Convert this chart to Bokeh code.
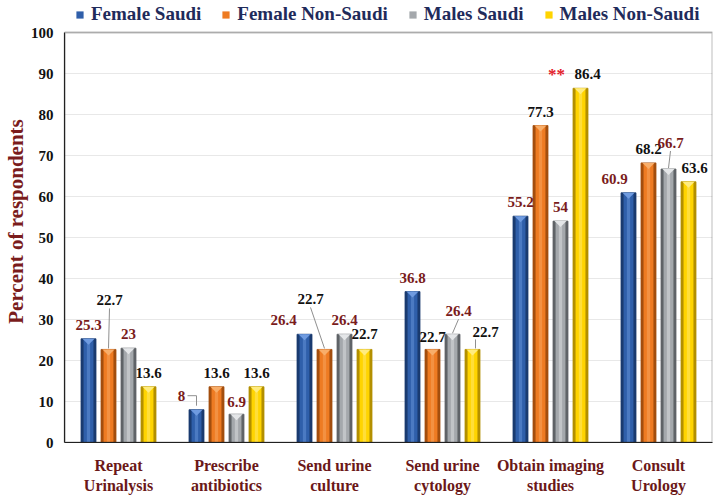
from bokeh.plotting import figure
from bokeh.models import (Range1d, FixedTicker, ColumnDataSource, LabelSet,
                          Legend, LegendItem, Label, BoxAnnotation)
from bokeh.embed import file_html
from bokeh.resources import INLINE

# ---------------- data ----------------
categories = ["Repeat\nUrinalysis", "Prescribe\nantibiotics", "Send urine\nculture",
              "Send urine\ncytology", "Obtain imaging\nstudies", "Consult\nUrology"]
series_names = ["Female Saudi", "Female Non-Saudi", "Males Saudi", "Males Non-Saudi"]
female_saudi = [25.3, 8, 26.4, 36.8, 55.2, 60.9]
female_non_saudi = [22.7, 13.6, 22.7, 22.7, 77.3, 68.2]
males_saudi = [23, 6.9, 26.4, 26.4, 54, 66.7]
males_non_saudi = [13.6, 13.6, 22.7, 22.7, 86.4, 63.6]
y_ticks = [0, 10, 20, 30, 40, 50, 60, 70, 80, 90, 100]
y_max = 100
significance_mark = "**"          # shown beside Males Non-Saudi, Obtain imaging studies
significance_index = 4

series_values = [female_saudi, female_non_saudi, males_saudi, males_non_saudi]

# ---------------- style ----------------
SERIF = "Liberation Serif"
DARK_RED = "#7A1C1C"
base_cols = ["#2F5FAA", "#EE7B22", "#A4A8AC", "#FFD400"]
edge_cols = ["#1A3B70", "#A34E0E", "#5F6367", "#B38F00"]
light_cols = ["#6F9BE0", "#F8AE6A", "#E4E6E8", "#FFEC80"]
label_cols = [DARK_RED, "#111111", DARK_RED, "#111111"]
# label pixel offsets (dx, dy above bar top) per series / group
label_dx = [[0, -15, -21, 0, 0, -14],
            [1, 0, -14, 0, 0, 0],
            [0, 0, 0, 6, 0, 2],
            [0, 0, 0, 13, 7, 6]]
label_dy = [[14, 14, 14, 14, 14, 14],
            [49, 14, 50, 12, 14, 14],
            [14, 12, 14, 23, 14, 26],
            [14, 14, 15, 17, 14, 14]]
# leader lines: (series, group, kind)
leaders = [(1, 0, "down"), (0, 1, "elbow"), (1, 2, "down"), (2, 3, "down"),
           (3, 3, "left"), (2, 5, "down")]

FW = 648          # frame width (px)
PLOT_H = 410      # px for the 0..100 span
TOP_PAD = 32      # px above the 100 line, holds the legend
pxx = FW / 6.0
pxy = PLOT_H / 100.0
pitch = 20 / pxx
bw = 15 / pxx

p = figure(frame_width=FW, frame_height=PLOT_H + TOP_PAD,
           x_range=Range1d(0, 6), y_range=Range1d(0, y_max + TOP_PAD / pxy),
           output_backend="svg", toolbar_location=None,
           min_border_left=0, min_border_right=3, min_border_top=0, min_border_bottom=0)
p.background_fill_color = "white"
p.border_fill_color = "white"
p.outline_line_color = None

# plot box (0..100)
p.add_layout(BoxAnnotation(left=0, right=6, bottom=0, top=y_max, fill_alpha=0,
                           line_color="#222222", line_width=2))

legend_items = []
for s in range(4):
    vals = series_values[s]
    xs = [i + 0.5 + (s - 1.5) * pitch for i in range(len(categories))]
    src = ColumnDataSource(dict(x=xs, top=vals))
    p.vbar(x="x", top="top", width=bw, bottom=0, source=src,
           fill_color=edge_cols[s], line_color=edge_cols[s], line_width=0.8)
    r = p.vbar(x="x", top="top", width=bw * 0.66, bottom=0, source=src,
               fill_color=base_cols[s], line_color=None)
    p.vbar(x="x", top="top", width=bw * 0.22, bottom=0, source=src,
           fill_color=light_cols[s], fill_alpha=0.45, line_color=None)
    cap = 6 / pxy
    p.patches([[x - bw * 0.4, x + bw * 0.4, x] for x in xs],
              [[v, v, v - cap] for v in vals],
              fill_color=light_cols[s], line_color=None)
    legend_items.append(LegendItem(label=series_names[s], renderers=[r]))

    lsrc = ColumnDataSource(dict(
        x=[xs[i] + label_dx[s][i] / pxx for i in range(len(vals))],
        y=[vals[i] + label_dy[s][i] / pxy for i in range(len(vals))],
        t=[("%g" % v) for v in vals]))
    p.add_layout(LabelSet(x="x", y="y", text="t", source=lsrc, text_align="center",
                          text_baseline="middle", text_font=SERIF, text_font_style="bold",
                          text_font_size="15px", text_color=label_cols[s]))

# leader lines
lx_all, ly_all = [], []
for s, g, kind in leaders:
    bx = g + 0.5 + (s - 1.5) * pitch
    v = series_values[s][g]
    lx = bx + label_dx[s][g] / pxx
    ly = v + label_dy[s][g] / pxy
    if kind == "down":
        lx_all.append([lx, bx])
        ly_all.append([ly - 8 / pxy, v + 1 / pxy])
    elif kind == "left":
        lx_all.append([lx - 10 / pxx, bx + 3 / pxx])
        ly_all.append([ly - 7 / pxy, v + 1 / pxy])
    else:  # elbow
        lx_all.append([lx + 6 / pxx, bx, bx])
        ly_all.append([ly, ly, v + 4 / pxy])
p.multi_line(lx_all, ly_all, line_color="#8F8F8F", line_width=1)

# significance mark
sx = significance_index + 0.5 + 1.5 * pitch
sv = males_non_saudi[significance_index]
p.add_layout(Label(x=sx - 24 / pxx, y=sv + label_dy[3][significance_index] / pxy,
                   text=significance_mark, text_align="center", text_baseline="middle",
                   text_font=SERIF, text_font_style="bold", text_font_size="17px",
                   text_color="#E3202A"))

# axes
p.yaxis.ticker = FixedTicker(ticks=y_ticks)
p.yaxis.bounds = (0, y_max)
p.xaxis.ticker = FixedTicker(ticks=[i + 0.5 for i in range(len(categories))])
p.xaxis.major_label_overrides = {i + 0.5: c for i, c in enumerate(categories)}
for ax in (p.xaxis, p.yaxis):
    ax.major_tick_line_color = None
    ax.minor_tick_line_color = None
    ax.axis_line_color = "#222222"
    ax.axis_line_width = 1.2
    ax.major_label_text_font = SERIF
    ax.major_label_text_font_style = "bold"
p.yaxis.major_label_text_font_size = "15px"
p.yaxis.major_label_text_color = "#111111"
p.yaxis.major_label_standoff = 5
p.xaxis.major_label_text_font_size = "16px"
p.xaxis.major_label_text_color = "#6B1818"
p.xaxis.major_label_standoff = 8
p.yaxis.axis_label = "Percent of respondents"
p.yaxis.axis_label_text_font = SERIF
p.yaxis.axis_label_text_font_style = "bold"
p.yaxis.axis_label_text_font_size = "21px"
p.yaxis.axis_label_text_color = DARK_RED
p.yaxis.axis_label_standoff = 0
p.xgrid.visible = False
p.ygrid.grid_line_color = "#E8E8E8"

legend = Legend(items=legend_items, orientation="horizontal",
                location=(10, PLOT_H + 6),
                label_text_font=SERIF, label_text_font_style="bold",
                label_text_font_size="19px", label_text_color="#1F2B5B",
                glyph_width=9, glyph_height=9, label_standoff=7, spacing=20,
                padding=1, margin=0, border_line_alpha=0, background_fill_alpha=0,
                label_height=19)
p.add_layout(legend)

open("out.html", "w").write(file_html(p, INLINE))
